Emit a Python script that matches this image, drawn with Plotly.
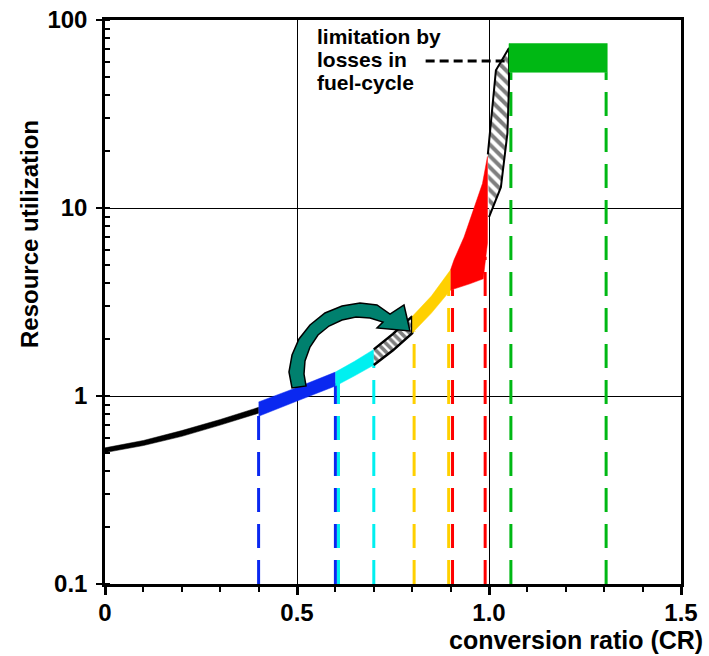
import plotly.graph_objects as go

# ---------------- data ----------------
x_tickvals = [0, 0.5, 1.0, 1.5]
x_ticktext = ["0", "0.5", "1.0", "1.5"]

# band segments (x, lower edge, upper edge) of the resource-utilization curve
black_x = [0.0, 0.1, 0.2, 0.3, 0.4]
black_lo = [0.50, 0.545, 0.61, 0.70, 0.81]
black_hi = [0.53, 0.58, 0.655, 0.75, 0.87]

blue_x = [0.4, 0.5, 0.6]
blue_lo = [0.78, 0.94, 1.13]
blue_hi = [0.93, 1.11, 1.34]

cyan_x = [0.6, 0.65, 0.7]
cyan_lo = [1.13, 1.28, 1.46]
cyan_hi = [1.34, 1.53, 1.77]

ladder_x = [0.7, 0.75, 0.8]
ladder_lo = [1.46, 1.75, 2.16]
ladder_hi = [1.77, 2.14, 2.65]

yellow_x = [0.8, 0.85, 0.9]
yellow_lo = [2.16, 2.76, 3.66]
yellow_hi = [2.65, 3.40, 4.69]

red_up_x = [0.9, 0.909, 0.935, 0.961, 0.983, 0.996]
red_up_y = [4.69, 5.3, 7.0, 10.1, 13.5, 18.8]
red_lo_x = [0.9, 0.95, 0.985, 0.996]
red_lo_y = [3.66, 3.95, 4.2, 6.5]

loss_left_x = [0.997, 1.005, 1.018, 1.052]
loss_left_y = [19.3, 29.0, 54.0, 71.0]
loss_right_x = [1.0, 1.031, 1.048, 1.052, 1.052]
loss_right_y = [8.95, 12.9, 25.0, 44.0, 71.0]

green_x = [1.052, 1.308]
green_lo = 52.7
green_hi = 75.0

# dashed drop lines
drop_x = [0.4, 0.6, 0.608, 0.7, 0.805, 0.895, 0.905, 0.99, 1.057, 1.305]
drop_top = [0.80, 1.17, 1.20, 1.50, 2.20, 3.70, 3.70, 5.5, 52.7, 52.7]
drop_color = ["#0A28F0", "#0A28F0", "#00F0F0", "#00F0F0", "#FFD000", "#FFD000",
              "#FF0000", "#FF0000", "#00B814", "#00B814"]

pointer_x = [0.835, 1.045]
pointer_y = [60.5, 60.5]

label_lines = ["limitation by", "losses in", "fuel-cycle"]

# ---------------- styling ----------------
FONT = "Liberation Sans, Arial, sans-serif"
BLACK = "#000000"
BLUE = "#0A28F0"
CYAN = "#00F0F0"
YELLOW = "#FFD000"
RED = "#FF0000"
GREEN = "#00B814"
TEAL = "#00806E"

W, H = 709, 656
ML, MR, MT, MB = 105, 28, 20, 72
PW, PH = W - ML - MR, H - MT - MB


def px2paper(px, py):
    return (px - ML) / PW, (H - MB - py) / PH


fig = go.Figure()

for xx, top, col in zip(drop_x, drop_top, drop_color):
    fig.add_trace(go.Scatter(x=[xx, xx], y=[0.1, top], mode="lines",
                             line=dict(color=col, width=3, dash="24px,12px"),
                             hoverinfo="skip"))


def band(x, lo, hi, color, pattern=None, outline=0):
    px = list(x) + list(reversed(x))
    py = list(hi) + list(reversed(lo))
    kw = {}
    if pattern:
        kw["fillpattern"] = dict(shape=pattern, fgcolor=BLACK, bgcolor="white",
                                 size=6, solidity=0.6)
    fig.add_trace(go.Scatter(x=px, y=py, mode="lines", fill="toself",
                             fillcolor=color if not pattern else "white",
                             line=dict(color=BLACK if outline else color,
                                       width=outline if outline else 0.5),
                             hoverinfo="skip", **kw))


band(black_x, black_lo, black_hi, BLACK)
band(blue_x, blue_lo, blue_hi, BLUE)
band(cyan_x, cyan_lo, cyan_hi, CYAN)
band(ladder_x, ladder_lo, ladder_hi, "white", pattern="\\", outline=2.5)
band(yellow_x, yellow_lo, yellow_hi, YELLOW)

# red section
fig.add_trace(go.Scatter(x=red_up_x + list(reversed(red_lo_x)),
                         y=red_up_y + list(reversed(red_lo_y)),
                         mode="lines", fill="toself", fillcolor=RED,
                         line=dict(color=RED, width=0.5), hoverinfo="skip"))

# loss (hatched) section
fig.add_trace(go.Scatter(x=loss_left_x + list(reversed(loss_right_x)),
                         y=loss_left_y + list(reversed(loss_right_y)),
                         mode="lines", fill="toself", fillcolor="white",
                         fillpattern=dict(shape="\\", fgcolor=BLACK, bgcolor="white",
                                          size=8, solidity=0.5),
                         line=dict(color=BLACK, width=2), hoverinfo="skip"))

# green plateau
fig.add_trace(go.Scatter(x=[green_x[0], green_x[1], green_x[1], green_x[0], green_x[0]],
                         y=[green_lo, green_lo, green_hi, green_hi, green_lo],
                         mode="lines", fill="toself", fillcolor=GREEN,
                         line=dict(color=GREEN, width=0.5), hoverinfo="skip"))

# pointer line
fig.add_trace(go.Scatter(x=pointer_x, y=pointer_y, mode="lines",
                         line=dict(color=BLACK, width=3, dash="9px,5px"),
                         hoverinfo="skip"))

# curved teal arrow (decoration)
arrow_px = [(292, 388), (289, 372), (292, 355), (299, 339), (310, 325), (325, 313),
            (342, 306), (360, 303), (377, 305), (390, 314),
            (404, 305), (410, 331), (377, 328),
            (383, 322), (370, 318), (356, 317), (342, 320), (329, 326), (318, 335),
            (310, 347), (305, 361), (304, 374), (306, 386)]
pts = [px2paper(a, b) for a, b in arrow_px]
path = "M " + " L ".join(f"{a:.4f},{b:.4f}" for a, b in pts) + " Z"
fig.add_shape(type="path", path=path, xref="paper", yref="paper",
              fillcolor=TEAL, line=dict(color=BLACK, width=1.5), layer="above")

# text annotations
for txt, py in zip(label_lines, [36, 59, 82]):
    xp, yp = px2paper(315, py)
    fig.add_annotation(x=xp, y=yp, xref="paper", yref="paper", text=txt,
                       showarrow=False, xanchor="left", yanchor="middle",
                       font=dict(family=FONT, size=21, color=BLACK, weight="bold"))

xp, yp = px2paper(705, 640)
fig.add_annotation(x=xp, y=yp, xref="paper", yref="paper", text="conversion ratio (CR)",
                   showarrow=False, xanchor="right", yanchor="middle",
                   font=dict(family=FONT, size=25, color=BLACK, weight="bold"))
xp, yp = px2paper(29, 234)
fig.add_annotation(x=xp, y=yp, xref="paper", yref="paper", text="Resource utilization",
                   showarrow=False, xanchor="center", yanchor="middle", textangle=-90,
                   font=dict(family=FONT, size=24, color=BLACK, weight="bold"))

fig.update_layout(
    width=W, height=H, margin=dict(l=ML, r=MR, t=MT, b=MB, autoexpand=False),
    paper_bgcolor="white", plot_bgcolor="white", showlegend=False,
    font=dict(family=FONT, color=BLACK),
)
fig.update_xaxes(range=[0, 1.5], tickvals=x_tickvals, ticktext=x_ticktext,
                 automargin=False,
                 ticks="outside", ticklen=8, tickwidth=2.5, tickcolor=BLACK,
                 showline=True, linecolor=BLACK, linewidth=2.5, mirror=True,
                 showgrid=True, gridcolor=BLACK, gridwidth=1.3, zeroline=False,
                 ticklabelstandoff=-3,
                 tickfont=dict(family=FONT, size=24, color=BLACK, weight="bold"),
                 minor=dict(dtick=0.1, tick0=0, ticks="outside", ticklen=5,
                            tickwidth=2, tickcolor=BLACK, showgrid=False))
fig.update_yaxes(type="log", range=[-1, 2], dtick=1, automargin=False,
                 ticks="outside", ticklen=6, tickwidth=2, tickcolor=BLACK,
                 showline=True, linecolor=BLACK, linewidth=2.5, mirror=True,
                 showgrid=True, gridcolor=BLACK, gridwidth=1.3, zeroline=False,
                 ticklabelstandoff=4,
                 tickfont=dict(family=FONT, size=24, color=BLACK, weight="bold"),
                 minor=dict(dtick="D1", ticks="inside", ticklen=5, tickwidth=1.5,
                            tickcolor=BLACK, showgrid=False))

fig.write_html("out.html", config={"displayModeBar": False},
               post_script="document.body.style.margin='0px';")
